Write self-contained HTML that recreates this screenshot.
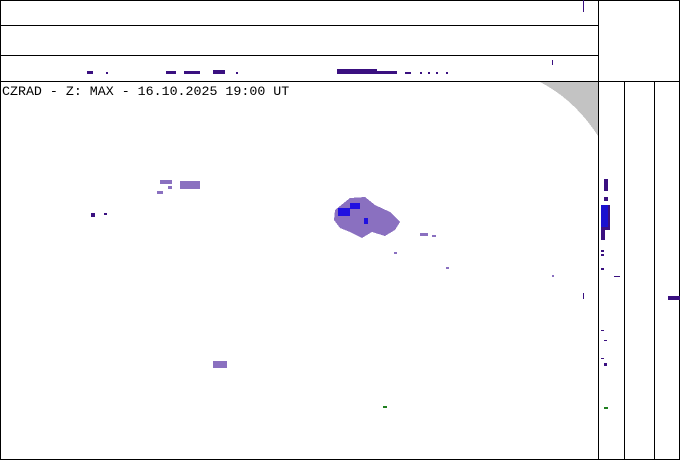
<!DOCTYPE html>
<html><head><style>body{margin:0;background:#fff}svg{display:block}</style></head><body>
<svg width="680" height="460" xmlns="http://www.w3.org/2000/svg" shape-rendering="crispEdges">
<rect x="0" y="0" width="680" height="460" fill="#fff"/>
<path d="M540 82 Q575 100 598 136 L598 82 Z" fill="#c3c3c3"/>
<g stroke="#000" stroke-width="1" fill="none">
<rect x="0.5" y="0.5" width="679" height="459"/>
<line x1="0" y1="25.5" x2="598" y2="25.5"/>
<line x1="0" y1="55.5" x2="598" y2="55.5"/>
<line x1="0" y1="81.5" x2="680" y2="81.5"/>
<line x1="598.5" y1="0" x2="598.5" y2="460"/>
<line x1="624.5" y1="81" x2="624.5" y2="460"/>
<line x1="654.5" y1="81" x2="654.5" y2="460"/>
</g>
<g fill="#3a1080">
<rect x="87" y="71" width="6" height="3"/><rect x="106" y="72" width="2" height="2"/>
<rect x="166" y="71" width="10" height="3"/><rect x="184" y="71" width="16" height="3"/>
<rect x="213" y="70" width="12" height="4"/><rect x="236" y="72" width="2" height="2"/>
<rect x="337" y="69" width="40" height="5"/><rect x="377" y="71" width="20" height="3"/>
<rect x="405" y="72" width="6" height="2"/><rect x="420" y="72" width="2" height="2"/><rect x="428" y="72" width="2" height="2"/><rect x="436" y="72" width="2" height="2"/><rect x="446" y="72" width="2" height="2"/>
<rect x="552" y="60" width="1" height="5"/><rect x="583" y="0" width="1" height="12"/>
<rect x="604" y="179" width="4" height="12"/><rect x="604" y="197" width="4" height="4"/>
<rect x="601" y="205" width="9" height="25"/><rect x="601" y="230" width="4" height="10"/>
<rect x="601" y="250" width="3" height="2"/><rect x="601" y="254" width="3" height="2"/><rect x="601" y="268" width="3" height="2"/>
<rect x="614" y="276" width="6" height="1"/><rect x="583" y="293" width="1" height="6"/>
<rect x="668" y="296" width="12" height="4"/>
<rect x="601" y="330" width="3" height="1"/><rect x="604" y="340" width="3" height="1"/><rect x="601" y="358" width="3" height="1"/><rect x="604" y="363" width="3" height="3"/>
<rect x="91" y="213" width="4" height="4"/><rect x="104" y="213" width="3" height="2"/>
</g>
<rect x="601" y="205" width="7" height="22" fill="#1a10d0"/>
<rect x="383" y="406" width="4" height="2" fill="#208020"/><rect x="604" y="407" width="4" height="2" fill="#208020"/>
<g fill="#8a70c0">
<path d="M335 210 L350 198 L365 197 L375 205 L390 212 L400 222 L395 230 L385 236 L372 232 L362 238 L350 232 L340 228 L334 220 Z"/>
<rect x="160" y="180" width="12" height="4"/><rect x="180" y="181" width="20" height="8"/><rect x="157" y="191" width="6" height="3"/><rect x="168" y="186" width="4" height="3"/>
<rect x="213" y="361" width="14" height="7"/><rect x="420" y="233" width="8" height="3"/><rect x="432" y="235" width="4" height="2"/>
<rect x="394" y="252" width="3" height="2"/><rect x="446" y="267" width="3" height="2"/><rect x="552" y="275" width="2" height="2"/>
</g>
<g fill="#2010e0"><rect x="338" y="208" width="12" height="8"/><rect x="350" y="203" width="10" height="6"/><rect x="364" y="218" width="4" height="6"/></g>
<text x="2" y="95" font-family="Liberation Mono, monospace" font-size="13.3" fill="#000">CZRAD - Z: MAX - 16.10.2025 19:00 UT</text>
</svg>
</body></html>
